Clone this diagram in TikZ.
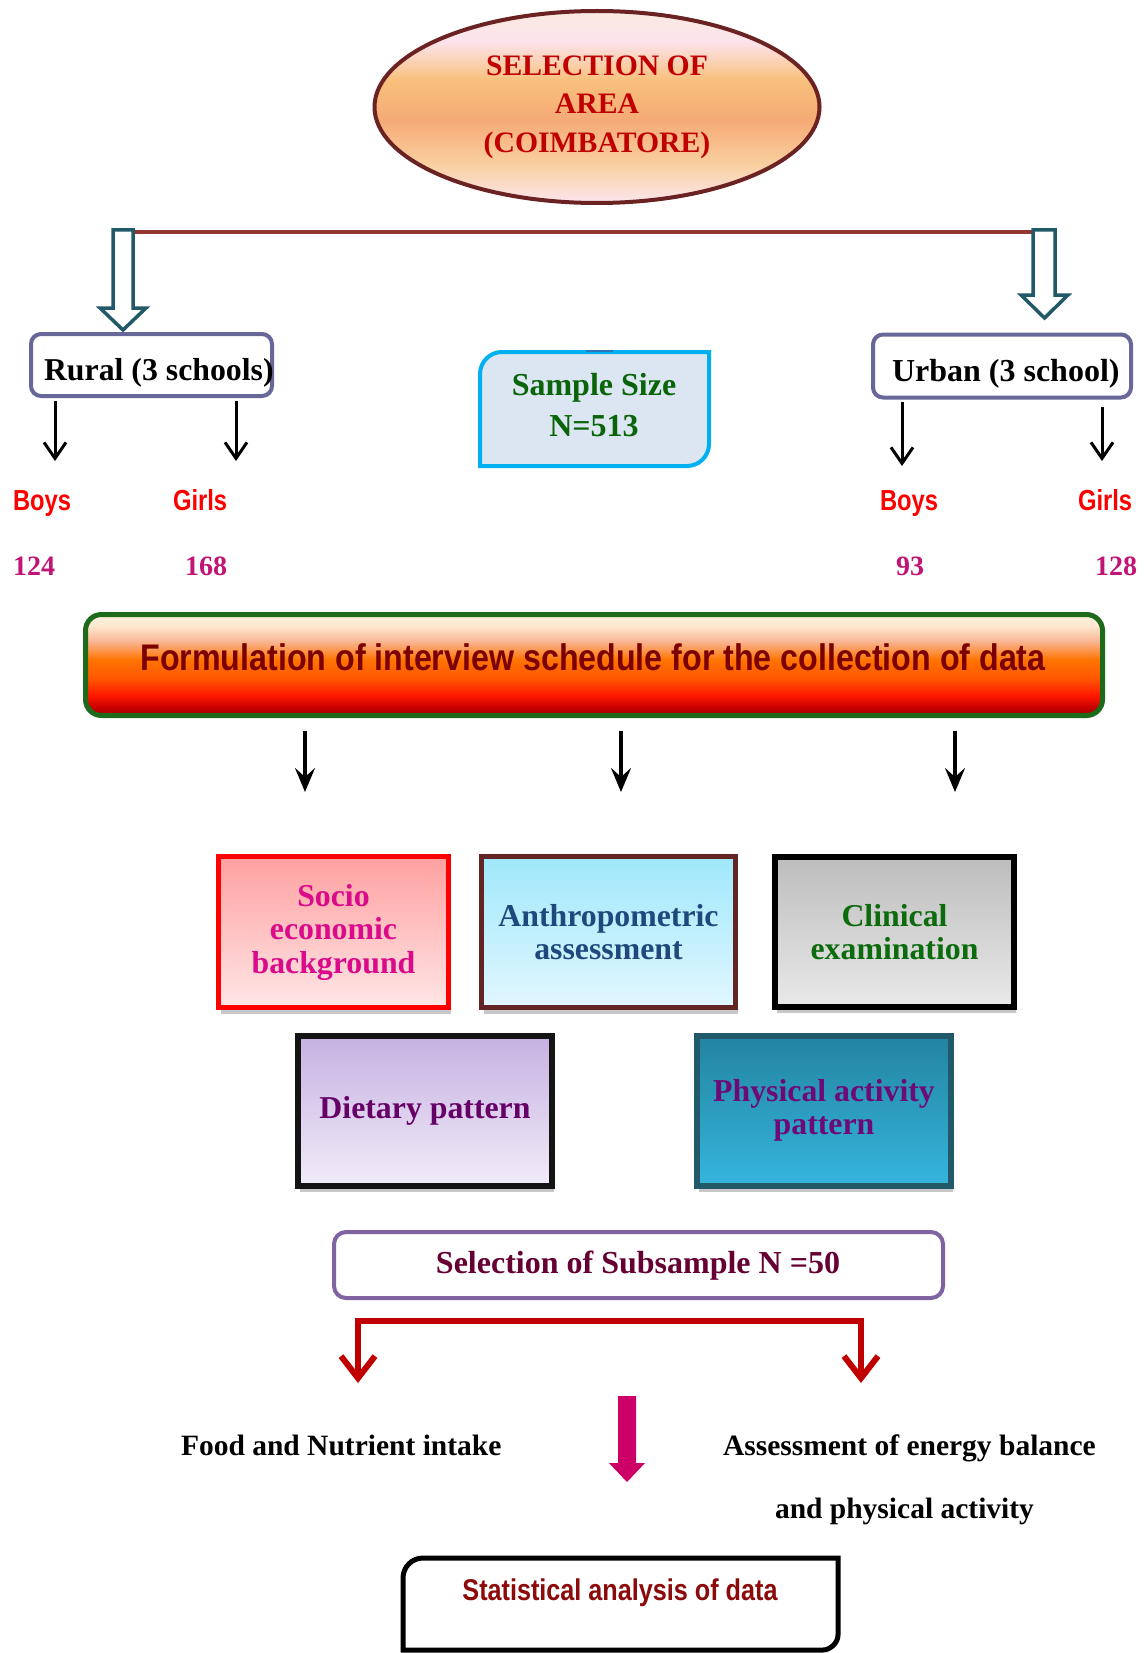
\documentclass[tikz,border=0pt]{standalone}
\usepackage{fontspec}
\setmainfont{Liberation Serif}
\newfontfamily\arialfont{Liberation Sans}[FakeStretch=0.82]
\newfontfamily\formfont{Liberation Sans}[FakeStretch=0.87]
\newfontfamily\statfont{Liberation Sans}[FakeStretch=0.84]
\usetikzlibrary{arrows.meta,shadows,shapes.geometric}

\definecolor{ellA}{HTML}{FBEAE0}
\definecolor{ellB}{HTML}{FCE3EC}
\definecolor{ellC}{HTML}{F8C07C}
\definecolor{ellD}{HTML}{F6AA76}
\definecolor{ellE}{HTML}{F9D0A0}
\definecolor{ellF}{HTML}{FCE6EE}
\definecolor{ellbd}{HTML}{6A2222}
\definecolor{selred}{HTML}{C00000}
\definecolor{conline}{HTML}{943634}
\definecolor{tealbd}{HTML}{215968}
\definecolor{rubd}{HTML}{676799}
\definecolor{smpbd}{HTML}{00B0F0}
\definecolor{smpfill}{HTML}{DCE6F2}
\definecolor{smptxt}{HTML}{0A640A}
\definecolor{smptab}{HTML}{2E75B6}
\definecolor{numcol}{HTML}{C01577}
\definecolor{fA}{HTML}{FEF2DF}
\definecolor{fB}{HTML}{FDE6CC}
\definecolor{fC}{HTML}{F9B797}
\definecolor{fD}{HTML}{FF7300}
\definecolor{fE}{HTML}{FF5500}
\definecolor{fF}{HTML}{FF1800}
\definecolor{fG}{HTML}{C80000}
\definecolor{fH}{HTML}{A00000}
\definecolor{formbd}{HTML}{1D6B1A}
\definecolor{formtxt}{HTML}{7B0000}
\definecolor{socTop}{HTML}{FFA0A0}
\definecolor{socBot}{HTML}{FFE6E6}
\definecolor{socTxt}{HTML}{DA0A8A}
\definecolor{antBd}{HTML}{632523}
\definecolor{antTop}{HTML}{9FE8FB}
\definecolor{antBot}{HTML}{E2F7FF}
\definecolor{antTxt}{HTML}{1F497D}
\definecolor{cliTop}{HTML}{BDBDBD}
\definecolor{cliBot}{HTML}{E9E9E9}
\definecolor{cliTxt}{HTML}{0C6B0C}
\definecolor{dieBd}{HTML}{141414}
\definecolor{dieTop}{HTML}{C6B1E2}
\definecolor{dieBot}{HTML}{F1ECF8}
\definecolor{dieTxt}{HTML}{660066}
\definecolor{phyTop}{HTML}{2384A0}
\definecolor{phyBot}{HTML}{35B5DD}
\definecolor{phyTxt}{HTML}{6E0A78}
\definecolor{subBd}{HTML}{8064A2}
\definecolor{subTxt}{HTML}{660033}
\definecolor{brRed}{HTML}{C00000}
\definecolor{magArr}{HTML}{CC0066}
\definecolor{statTxt}{HTML}{8C0A0A}

\pgfdeclareverticalshading{ellsh}{100bp}{color(0bp)=(ellF); color(25bp)=(ellF); color(35bp)=(ellE); color(46.5bp)=(ellD); color(57bp)=(ellC); color(67bp)=(ellB); color(75bp)=(ellA); color(100bp)=(ellA)}
\pgfdeclareverticalshading{formsh}{100bp}{color(0bp)=(fH); color(25bp)=(fH); color(29bp)=(fG); color(35bp)=(fF); color(43bp)=(fE); color(52.5bp)=(fD); color(62bp)=(fC); color(69bp)=(fB); color(75bp)=(fA); color(100bp)=(fA)}

\tikzset{
  every node/.style={inner sep=0pt, outer sep=0pt},
  serifb/.style={font=\bfseries\fontsize{#1}{#1}\selectfont},
  hollowarr/.style={draw=tealbd, line width=3.5pt, fill=white, line join=miter},
  blkarr/.style={line width=3pt, -{Straight Barb[length=16pt, width=22pt]}},
  dartarr/.style={line width=3.5pt, -{Stealth[length=24pt, width=20pt, inset=9pt]}},
  gender/.style={anchor=base west, text=red, font=\arialfont\bfseries\fontsize{29}{32}\selectfont},
  count/.style={anchor=base west, text=numcol, font=\bfseries\fontsize{28}{32}\selectfont},
  ibox/.style={rectangle, align=center, font=\bfseries\fontsize{31.8}{33.5}\selectfont,
     drop shadow={shadow xshift=2pt, shadow yshift=-6pt, fill=black, opacity=0.22}},
  plain/.style={anchor=base west, font=\bfseries\fontsize{29.5}{33}\selectfont},
}

\begin{document}
\begin{tikzpicture}[x=1pt,y=-1pt]
\useasboundingbox (0,0) rectangle (1144,1653);

% top ellipse
\node[ellipse, draw=ellbd, line width=4pt, shade, shading=ellsh,
      minimum width=445pt, minimum height=192pt, align=center, text=selred,
      font=\bfseries\fontsize{29.7}{38.5}\selectfont] (area) at (597,107)
      {SELECTION OF\\AREA\\(COIMBATORE)};

% connector line and hollow arrows
\coordinate (lTop) at (133,232);
\coordinate (rTop) at (1033,232);
\draw[conline, line width=4pt] (lTop) -- (rTop);
\draw[hollowarr] (113,230) -- (133,230) -- (133,308) -- (146,308) -- (123,330) -- (100,308) -- (113,308) -- cycle;
\draw[hollowarr] (1033,230) -- (1055,230) -- (1055,295) -- (1068,295) -- (1044.5,318) -- (1021,295) -- (1033,295) -- cycle;

% rural / urban boxes
\node[draw=rubd, line width=4pt, rounded corners=10pt, fill=white, minimum width=241pt, minimum height=62pt] (rural) at (151.5,365) {};
\node[anchor=base west, serifb=31.8] (ruraltxt) at (44,380) {Rural (3 schools)};
\node[draw=rubd, line width=4pt, rounded corners=10pt, fill=white, minimum width=258pt, minimum height=63pt] (urban) at (1002,366) {};
\node[anchor=base west, serifb=32] (urbantxt) at (892,381) {Urban (3 school)};

% sample size box
\draw[draw=smpbd, fill=smpfill, line width=4pt] (480,466) -- (480,374) .. controls (480,361.85) and (489.85,352) .. (502,352) -- (709,352) -- (709,444) .. controls (709,456.15) and (699.15,466) .. (687,466) -- cycle;
\draw[smptab, line width=2pt] (586,351) -- (613,351);
\node[anchor=base, text=smptxt, serifb=32] (smp1) at (594,395) {Sample Size};
\node[anchor=base, text=smptxt, serifb=32] (smp2) at (594,436) {N=513};

% arrows under rural / urban
\draw[blkarr] (55,401) -- (55,461);
\draw[blkarr] (236,401) -- (236,461);
\draw[blkarr] (902,402) -- (902,466);
\draw[blkarr] (1102,407) -- (1102,461);

\node[gender] (boysR) at (13,510) {Boys};
\node[gender] (girlsR) at (173,510) {Girls};
\node[gender] (boysU) at (880,510) {Boys};
\node[gender] (girlsU) at (1078,510) {Girls};
\node[count] (nBR) at (13,575) {124};
\node[count] (nGR) at (185,575) {168};
\node[count] (nBU) at (896,575) {93};
\node[count] (nGU) at (1095,575) {128};

% formulation box
\node[draw=formbd, line width=5pt, rounded corners=16pt, shade, shading=formsh,
      minimum width=1017pt, minimum height=101pt] (form) at (594,665) {};
\node[anchor=base, text=formtxt, font=\formfont\bfseries\fontsize{37}{40}\selectfont] (formtxt) at (593,670)
      {Formulation of interview schedule for the collection of data};

\draw[dartarr] (305,731) -- (305,792);
\draw[dartarr] (621,731) -- (621,792);
\draw[dartarr] (955,731) -- (955,792);

% five boxes
\node[ibox, draw=red, line width=5pt, top color=socTop, bottom color=socBot, text=socTxt,
      minimum width=230pt, minimum height=151pt] (socio) at (333.5,932) {Socio\\economic\\background};
\node[ibox, draw=antBd, line width=5pt, top color=antTop, bottom color=antBot, text=antTxt,
      minimum width=254pt, minimum height=151pt] (anthro) at (608.5,932) {Anthropometric\\assessment};
\node[ibox, draw=black, line width=6pt, top color=cliTop, bottom color=cliBot, text=cliTxt,
      minimum width=239pt, minimum height=150pt] (clin) at (894.5,932) {Clinical\\examination};
\node[ibox, draw=dieBd, line width=6pt, top color=dieTop, bottom color=dieBot, text=dieTxt,
      minimum width=254pt, minimum height=150pt] (diet) at (425,1110.5) {Dietary pattern};
\node[ibox, draw=tealbd, line width=6pt, top color=phyTop, bottom color=phyBot, text=phyTxt,
      minimum width=254pt, minimum height=150pt] (phys) at (824,1110.5) {Physical activity\\pattern};

% subsample
\node[draw=subBd, line width=4pt, rounded corners=12pt, fill=white, minimum width=609pt, minimum height=66pt] (subs) at (638.5,1265) {};
\node[anchor=base, text=subTxt, serifb=32] (substxt) at (638,1273) {Selection of Subsample N =50};

% red bracket arrows
\coordinate (brL) at (358,1383);
\coordinate (brR) at (861,1383);
\draw[brRed, line width=6pt, {Straight Barb[length=22pt, width=34pt]}-{Straight Barb[length=22pt, width=34pt]}]
   (brL) -- (358,1321) -- (861,1321) -- (brR);

% magenta arrow
\fill[magArr] (618,1396) -- (636,1396) -- (636,1463) -- (645,1463) -- (627,1482) -- (609,1463) -- (618,1463) -- cycle;

\node[plain] (food) at (181,1455) {Food and Nutrient intake};
\node[plain] (assess) at (723,1455) {Assessment of energy balance};
\node[plain] (assess2) at (775,1518) {and physical activity};

% statistical box
\draw[line width=5pt, fill=white] (403,1650) -- (403,1578) .. controls (403,1566.95) and (411.95,1558) .. (423,1558) -- (838,1558) -- (838,1635) .. controls (838,1643.3) and (829.7,1650) .. (823,1650) -- cycle;
\node[anchor=base, text=statTxt, font=\statfont\bfseries\fontsize{30}{34}\selectfont] (stat) at (620,1600) {Statistical analysis of data};
\end{tikzpicture}
\end{document}
